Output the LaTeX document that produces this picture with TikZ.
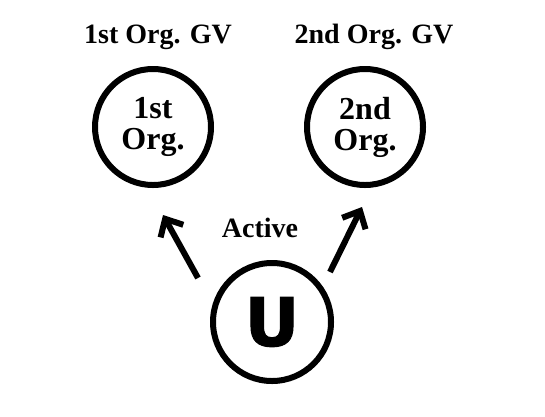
\documentclass[tikz,border=0pt]{standalone}
\usepackage{fontspec}
\usepackage{tikz}
\usetikzlibrary{arrows.meta}
\setmainfont{Liberation Serif}
\newfontfamily\ufont[FakeBold=1.5]{DejaVu Sans Bold}
\tikzset{
    org-circle/.style = {draw=black, circle, line width=6pt, minimum size=116pt, inner sep=0pt, align=center, font=\fontsize{32}{31}\selectfont\bfseries},
    gv-label/.style = {anchor=base, font=\fontsize{28}{30}\selectfont\bfseries},
    arrow-line/.style = {line width=6pt, -{Straight Barb[length=14pt, width=26pt]}},
}

\begin{document}
\begin{tikzpicture}[x=1pt, y=-1pt]
\useasboundingbox (0,0) rectangle (545,416);
\node [org-circle] (org1) at (153,127) {1st\\Org.};
\node [org-circle] (org2) at (365,127) {2nd\\Org.};
\node [org-circle, minimum size=118pt, font=\fontsize{67}{70}\ufont] (U) at (272,322) {U};
\node [gv-label] (gv1) at (158,43) {1st Org. GV};
\node [gv-label] (gv2) at (374,43) {2nd Org. GV};
\node [gv-label] (active) at (260,237) {Active};
\draw [arrow-line] ([shift={(-74,-44)}]U.center) -- ([shift={(10,88)}]org1.center);
\draw [arrow-line] ([shift={(58,-50)}]U.center) -- ([shift={(-3,80)}]org2.center);
\end{tikzpicture}
\end{document}
